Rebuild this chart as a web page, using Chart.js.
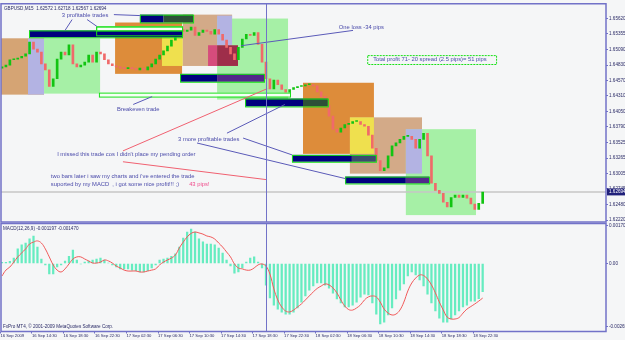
<!DOCTYPE html>
<html>
<head>
<meta charset="utf-8">
<title>GBPUSD M15</title>
<script src="https://cdn.jsdelivr.net/npm/chart.js@4"></script>
<style>
  html, body { margin: 0; padding: 0; width: 625px; height: 340px; overflow: hidden; background: #f5f6f7; }
  canvas { position: absolute; left: 0; top: 0; }
</style>
</head>
<body>
<canvas id="priceChart" width="640" height="340"></canvas>
<canvas id="macdChart" width="640" height="340"></canvas>
<script>
// 30분 간격으로 읽은 시가 / 종가
const opens = [
  1.6478, 1.6480, 1.6483, 1.6492, 1.6493, 1.6495, 1.6498, 1.6502, 1.6522, 1.6510,
  1.6505, 1.6485, 1.6475, 1.6447, 1.6460, 1.6493, 1.6505, 1.6500, 1.6517, 1.6485,
  1.6480, 1.6483, 1.6488, 1.6500, 1.6488, 1.6505, 1.6502, 1.6492, 1.6485, 1.6482,
  1.6480, 1.6478, 1.6477, 1.6478, 1.6477, 1.6475, 1.6478, 1.6475, 1.6480, 1.6485,
  1.6493, 1.6500, 1.6507, 1.6515, 1.6525, 1.6533, 1.6543, 1.6540, 1.6542, 1.6547,
  1.6533, 1.6538, 1.6542, 1.6540, 1.6535, 1.6543, 1.6535, 1.6525, 1.6513, 1.6502,
  1.6492, 1.6513, 1.6527, 1.6535, 1.6533, 1.6538, 1.6518, 1.6488, 1.6460, 1.6443,
  1.6458, 1.6450, 1.6442, 1.6433, 1.6442, 1.6445, 1.6447, 1.6448, 1.6450, 1.6450,
  1.6448, 1.6438, 1.6430, 1.6415, 1.6397, 1.6375, 1.6370, 1.6377, 1.6383, 1.6385,
  1.6388, 1.6388, 1.6383, 1.6380, 1.6365, 1.6343, 1.6322, 1.6305, 1.6310, 1.6330,
  1.6347, 1.6352, 1.6358, 1.6363, 1.6363, 1.6358, 1.6343, 1.6358, 1.6368, 1.6330,
  1.6284, 1.6272, 1.6267, 1.6252, 1.6244, 1.6260, 1.6264, 1.6260, 1.6264, 1.6259,
  1.6249, 1.6240, 1.6250
];
const closes = [
  1.6480, 1.6483, 1.6492, 1.6493, 1.6495, 1.6498, 1.6502, 1.6522, 1.6510, 1.6505,
  1.6485, 1.6475, 1.6447, 1.6460, 1.6493, 1.6505, 1.6500, 1.6517, 1.6485, 1.6480,
  1.6483, 1.6488, 1.6500, 1.6488, 1.6505, 1.6502, 1.6492, 1.6485, 1.6482, 1.6480,
  1.6478, 1.6477, 1.6478, 1.6477, 1.6475, 1.6478, 1.6475, 1.6480, 1.6485, 1.6493,
  1.6500, 1.6507, 1.6515, 1.6525, 1.6533, 1.6543, 1.6540, 1.6542, 1.6547, 1.6533,
  1.6538, 1.6542, 1.6540, 1.6535, 1.6543, 1.6535, 1.6525, 1.6513, 1.6502, 1.6492,
  1.6513, 1.6527, 1.6535, 1.6533, 1.6538, 1.6518, 1.6488, 1.6460, 1.6443, 1.6458,
  1.6450, 1.6442, 1.6433, 1.6442, 1.6445, 1.6447, 1.6448, 1.6450, 1.6450, 1.6448,
  1.6438, 1.6430, 1.6415, 1.6397, 1.6375, 1.6370, 1.6377, 1.6383, 1.6385, 1.6388,
  1.6388, 1.6383, 1.6380, 1.6365, 1.6343, 1.6322, 1.6305, 1.6310, 1.6330, 1.6347,
  1.6352, 1.6358, 1.6363, 1.6363, 1.6358, 1.6343, 1.6358, 1.6368, 1.6330, 1.6284,
  1.6272, 1.6267, 1.6252, 1.6244, 1.6260, 1.6264, 1.6260, 1.6264, 1.6259, 1.6249,
  1.6240, 1.6250, 1.6269
];

// MACD 히스토그램 / 시그널
const macdHist = [
  0.00005, 0.00005, 0.00009, 0.00023, 0.00062, 0.00079, 0.00087, 0.00105, 0.00117, 0.00070,
  0.00019, -0.00006, -0.00044, -0.00044, -0.00015, -0.00006, 0.00010, 0.00031, 0.00057, 0.00015,
  -0.00002, 0.00006, 0.00010, 0.00015, 0.00019, 0.00023, 0.00015, 0.00002, -0.00006, -0.00015,
  -0.00023, -0.00023, -0.00023, -0.00028, -0.00031, -0.00036, -0.00036, -0.00031, -0.00019, -0.00006,
  0.00015, 0.00019, 0.00023, 0.00031, 0.00041, 0.00070, 0.00108, 0.00134, 0.00146, 0.00134,
  0.00105, 0.00092, 0.00083, 0.00083, 0.00079, 0.00066, 0.00044, 0.00015, -0.00010, -0.00041,
  -0.00036, -0.00019, 0.00006, 0.00023, 0.00028, 0.00006, -0.00019, -0.00092, -0.00146, -0.00177,
  -0.00194, -0.00207, -0.00215, -0.00215, -0.00207, -0.00189, -0.00164, -0.00138, -0.00113, -0.00095,
  -0.00083, -0.00083, -0.00092, -0.00105, -0.00126, -0.00151, -0.00168, -0.00185, -0.00185, -0.00177,
  -0.00164, -0.00143, -0.00130, -0.00134, -0.00168, -0.00215, -0.00257, -0.00249, -0.00219, -0.00189,
  -0.00151, -0.00113, -0.00087, -0.00053, -0.00036, -0.00049, -0.00070, -0.00095, -0.00130, -0.00168,
  -0.00202, -0.00232, -0.00249, -0.00249, -0.00236, -0.00219, -0.00202, -0.00185, -0.00177, -0.00160,
  -0.00160, -0.00150, -0.00120
];
const macdSignal = [
  -0.00053, -0.00028, -0.00015, 0.00006, 0.00028, 0.00045, 0.00062, 0.00083, 0.00091, 0.00096,
  0.00087, 0.00062, 0.00028, -0.00006, -0.00028, -0.00036, -0.00023, -0.00002, 0.00019, 0.00028,
  0.00028, 0.00019, 0.00011, 0.00002, 0.00002, 0.00006, 0.00015, 0.00011, 0.00002, -0.00011,
  -0.00019, -0.00028, -0.00032, -0.00032, -0.00032, -0.00036, -0.00036, -0.00032, -0.00028, -0.00023,
  -0.00006, 0.00006, 0.00015, 0.00023, 0.00036, 0.00066, 0.00091, 0.00113, 0.00128, 0.00134,
  0.00130, 0.00125, 0.00117, 0.00113, 0.00104, 0.00087, 0.00070, 0.00049, 0.00028, -0.00002,
  -0.00019, -0.00023, -0.00028, -0.00028, -0.00019, -0.00006, -0.00002, -0.00011, -0.00045, -0.00108,
  -0.00155, -0.00185, -0.00202, -0.00206, -0.00198, -0.00185, -0.00172, -0.00155, -0.00138, -0.00121,
  -0.00106, -0.00096, -0.00087, -0.00091, -0.00104, -0.00125, -0.00155, -0.00181, -0.00196, -0.00198,
  -0.00189, -0.00176, -0.00155, -0.00142, -0.00138, -0.00142, -0.00164, -0.00194, -0.00211, -0.00219,
  -0.00215, -0.00198, -0.00164, -0.00117, -0.00083, -0.00062, -0.00049, -0.00051, -0.00066, -0.00091,
  -0.00125, -0.00164, -0.00198, -0.00228, -0.00236, -0.00236, -0.00230, -0.00211, -0.00194, -0.00183,
  -0.00172, -0.00160, -0.00147
];

// 축 눈금
const priceTicks = [1.65620, 1.65355, 1.65090, 1.64830, 1.64570, 1.64310, 1.64050,
  1.63790, 1.63525, 1.63265, 1.63005, 1.62745, 1.62480, 1.62220];
const lastPrice = 1.62694;
const macdTickAt = [0.00160, 0, -0.00270];
const macdTickLabels = ['0.001701', '0.00', '-0.002651'];
const timeTickAt = [0, 8, 16, 24, 32, 40, 48, 56, 64, 72, 80, 88, 96, 104, 112, 120];
const timeLabels = ['16 Sep 2009', '16 Sep 14:30', '16 Sep 18:30', '16 Sep 22:30', '17 Sep 02:30',
  '17 Sep 06:30', '17 Sep 10:30', '17 Sep 14:30', '17 Sep 18:30', '17 Sep 22:30', '18 Sep 02:30',
  '18 Sep 06:30', '18 Sep 10:30', '18 Sep 14:30', '18 Sep 18:30', '18 Sep 22:30'];

// 차트 위 객체 (막대 번호, 가격)
const zoneBoxes = [
  [-0.25, 10.67, 1.64333, 1.65282, 'tan'],
  [6.6, 10.67, 1.64333, 1.65282, 'lavender'],
  [10.67, 24.9, 1.64350, 1.65282, 'green'],
  [28.7, 45.7, 1.64683, 1.65548, 'orange'],
  [40.6, 45.9, 1.64816, 1.65332, 'yellow'],
  [45.9, 58.4, 1.64816, 1.65681, 'sand'],
  [54.6, 72.6, 1.64250, 1.65615, 'green'],
  [54.6, 58.4, 1.65165, 1.65665, 'lavender'],
  [52.3, 54.6, 1.64816, 1.65165, 'pink'],
  [54.6, 59.9, 1.64816, 1.65165, 'wine'],
  [76.4, 94.4, 1.63335, 1.64533, 'orange'],
  [88.3, 106.6, 1.63002, 1.63950, 'sand'],
  [88.3, 94.4, 1.63335, 1.63950, 'yellow'],
  [102.5, 120.3, 1.62303, 1.63751, 'green'],
  [102.5, 106.6, 1.63002, 1.63751, 'lavender']
];
const tradeBars = [
  [6.86, 45.7, 45.7, 1.65299, 1.65415, 'navy'],
  [35.0, 41.0, 48.5, 1.65548, 1.65681, 'olive'],
  [45.2, 54.6, 66.5, 1.64550, 1.64683, 'purple'],
  [61.7, 76.4, 82.7, 1.64134, 1.64267, 'olive'],
  [73.6, 88.8, 94.9, 1.63202, 1.63318, 'slate'],
  [87.1, 102.5, 108.4, 1.62836, 1.62952, 'purple']
];
const lightBars = [
  [23.9, 45.7, 1.65415, 1.65482],
  [24.6, 73.1, 1.64300, 1.64367]
];
const outlineBars = [
  [23.9, 45.7, 1.65332, 1.65482]
];
const profitBox = [92.7, 125.4, 1.64849, 1.64999];
const blueLinks = [
  [17.8, 1.65598, 16.0, 1.65415],
  [21.6, 1.65598, 24.1, 1.65482],
  [28.4, 1.65681, 35.0, 1.65665],
  [60.7, 1.65157, 89.1, 1.65415],
  [33.3, 1.64167, 38.1, 1.64300],
  [57.1, 1.63684, 71.8, 1.64167],
  [61.2, 1.63601, 73.6, 1.63318],
  [49.5, 1.63518, 87.1, 1.62919]
];
const redLinks = [
  [30.7, 1.63385, 67.3, 1.64433],
  [30.7, 1.63202, 67.0, 1.62902]
];
const notes = [
  [15.2, 1.65665, '3 profitable trades', 'note'],
  [85.5, 1.65465, 'One loss -34 pips', 'note'],
  [94.2, 1.64924, 'Total profit 71- 20 spread (2.5 pips)= 51 pips', 'note'],
  [29.2, 1.64084, 'Breakeven trade', 'note'],
  [44.7, 1.63584, '3 more profitable trades', 'note'],
  [14.0, 1.63318, "I missed this trade cos I didn't place my pending order", 'note'],
  [12.4, 1.62960, "two bars later i saw my charts and i've entered the trade", 'note'],
  [12.4, 1.62819, 'suported by my MACD  , i got some nice profit!!! ;)', 'note'],
  [47.5, 1.62819, '43 pips!', 'hot']
];
const markerBar = 67.1;

const colours = {
  tan: '#d5a474', lavender: '#b3b3e3', green: '#a6f0a6', orange: '#dd8c3a', yellow: '#efe04e',
  sand: '#d3aa88', pink: '#d64c7c', wine: '#9e2e4a', navy: '#00007e', olive: '#2d5038',
  purple: '#52288a', slate: '#3c4c6e', note: '#4a4aaa', hot: '#f04c8c',
  up: '#12c412', down: '#f06a6a', hist: '#66ecc0', signal: '#f05a5a',
  frame: '#7272c8', tradeEdge: '#18e018', blueLine: '#5a5ab8', redLine: '#f06070',
  bid: '#c6c6c6', axisText: '#2a2a66'
};
const FONT = '"Liberation Sans", Arial, sans-serif';
const X_MIN = -0.25, X_MAX = 153.3;
const barIdx = closes.map((_, i) => i);

// 데이터 좌표 -> 픽셀
function toPx(chart, b, p) {
  return [chart.scales.x.getPixelForValue(b), chart.scales.y.getPixelForValue(p)];
}

function rectOf(chart, b0, b1, p0, p1) {
  const [x0, ya] = toPx(chart, b0, p0);
  const [x1, yb] = toPx(chart, b1, p1);
  return [x0, Math.min(ya, yb), x1 - x0, Math.abs(yb - ya)];
}

function drawFrame(chart) {
  const { ctx, chartArea: a } = chart;
  ctx.save();
  ctx.strokeStyle = colours.frame;
  ctx.lineWidth = 1.5;
  ctx.strokeRect(a.left, a.top, a.right - a.left, a.bottom - a.top);
  const x = chart.scales.x.getPixelForValue(markerBar);
  ctx.lineWidth = 1;
  ctx.beginPath();
  ctx.moveTo(Math.round(x) + 0.5, a.top);
  ctx.lineTo(Math.round(x) + 0.5, a.bottom);
  ctx.stroke();
  ctx.restore();
}

const pricePanel = {
  id: 'pricePanel',
  beforeDatasetsDraw(chart) {
    const { ctx, chartArea: a } = chart;
    ctx.save();
    ctx.beginPath();
    ctx.rect(a.left, a.top, a.right - a.left, a.bottom - a.top);
    ctx.clip();
    zoneBoxes.forEach(z => {
      ctx.fillStyle = colours[z[4]];
      ctx.fillRect(...rectOf(chart, z[0], z[1], z[2], z[3]));
    });
    // 현재가 선
    const yb = chart.scales.y.getPixelForValue(lastPrice);
    ctx.strokeStyle = colours.bid;
    ctx.lineWidth = 1.5;
    ctx.beginPath();
    ctx.moveTo(a.left, yb);
    ctx.lineTo(a.right, yb);
    ctx.stroke();
    ctx.restore();
  },
  afterDatasetsDraw(chart) {
    const { ctx, chartArea: a } = chart;
    ctx.save();
    ctx.beginPath();
    ctx.rect(a.left, a.top, a.right - a.left, a.bottom - a.top);
    ctx.clip();

    tradeBars.forEach(t => {
      const left = rectOf(chart, t[0], t[1], t[3], t[4]);
      const right = rectOf(chart, t[1], t[2], t[3], t[4]);
      ctx.fillStyle = colours.navy;
      ctx.fillRect(...left);
      ctx.fillStyle = colours[t[5]];
      ctx.fillRect(...right);
      const whole = rectOf(chart, t[0], t[2], t[3], t[4]);
      ctx.strokeStyle = colours.tradeEdge;
      ctx.lineWidth = 1;
      ctx.strokeRect(whole[0] + 0.5, whole[1] + 0.5, whole[2], whole[3]);
    });
    lightBars.forEach(t => {
      const r = rectOf(chart, t[0], t[1], t[2], t[3]);
      ctx.fillStyle = '#f6fff6';
      ctx.fillRect(...r);
      ctx.strokeStyle = colours.tradeEdge;
      ctx.strokeRect(r[0] + 0.5, r[1] + 0.5, r[2], r[3]);
    });
    outlineBars.forEach(t => {
      const r = rectOf(chart, t[0], t[1], t[2], t[3]);
      ctx.strokeStyle = colours.tradeEdge;
      ctx.strokeRect(r[0] + 0.5, r[1] + 0.5, r[2], r[3]);
    });

    // 추세선
    const links = (list, colour) => {
      ctx.strokeStyle = colour;
      ctx.lineWidth = 1;
      list.forEach(l => {
        const [x0, y0] = toPx(chart, l[0], l[1]);
        const [x1, y1] = toPx(chart, l[2], l[3]);
        ctx.beginPath();
        ctx.moveTo(x0, y0);
        ctx.lineTo(x1, y1);
        ctx.stroke();
      });
    };
    links(blueLinks, colours.blueLine);
    links(redLinks, colours.redLine);

    // 수익 상자
    const pb = rectOf(chart, profitBox[0], profitBox[1], profitBox[2], profitBox[3]);
    ctx.setLineDash([2, 1]);
    ctx.strokeStyle = colours.tradeEdge;
    ctx.strokeRect(pb[0] + 0.5, pb[1] + 0.5, pb[2], pb[3]);
    ctx.setLineDash([]);

    // 메모
    ctx.font = '5.8px ' + FONT;
    ctx.textBaseline = 'middle';
    notes.forEach(n => {
      const [x, y] = toPx(chart, n[0], n[1]);
      ctx.fillStyle = colours[n[3]];
      ctx.fillText(n[2], x, y);
    });

    ctx.font = '4.6px ' + FONT;
    ctx.fillStyle = colours.axisText;
    ctx.textBaseline = 'top';
    ctx.fillText('GBPUSD,M15  1.62572 1.62718 1.62567 1.62694', a.left + 3, a.top + 3);
    ctx.restore();
  },
  afterDraw(chart) {
    drawFrame(chart);
    const { ctx, chartArea: a } = chart;
    const yb = chart.scales.y.getPixelForValue(lastPrice);
    ctx.save();
    ctx.fillStyle = '#20207a';
    ctx.fillRect(a.right + 1, yb - 3.5, 30, 7);
    ctx.fillStyle = '#ffffff';
    ctx.font = '4.6px ' + FONT;
    ctx.textBaseline = 'middle';
    ctx.fillText(lastPrice.toFixed(5), a.right + 3, yb);
    ctx.restore();
  }
};

const macdPanel = {
  id: 'macdPanel',
  afterDraw(chart) {
    drawFrame(chart);
    const { ctx, chartArea: a } = chart;
    ctx.save();
    ctx.font = '4.6px ' + FONT;
    ctx.fillStyle = colours.axisText;
    ctx.textBaseline = 'top';
    ctx.fillText('MACD(12,26,9) -0.001197 -0.001470', a.left + 2, a.top + 3);
    ctx.textBaseline = 'bottom';
    ctx.fillText('FxPro MT4, \u00a9 2001-2009 MetaQuotes Software Corp.', a.left + 2, a.bottom - 2);
    ctx.restore();
  }
};

const axisFont = { family: FONT, size: 4.6 };

// 가격 차트
new Chart(document.getElementById('priceChart'), {
  type: 'bar',
  data: {
    datasets: [{
      data: barIdx.map(i => ({ x: i, y: [opens[i], closes[i]] })),
      backgroundColor: barIdx.map(i => closes[i] >= opens[i] ? colours.up : colours.down),
      barThickness: 2,
      minBarLength: 1
    }]
  },
  options: {
    responsive: false,
    animation: false,
    layout: { padding: { top: 1, bottom: 118, left: 1, right: 0 } },
    plugins: { legend: { display: false }, tooltip: { enabled: false } },
    scales: {
      x: { type: 'linear', display: false, min: X_MIN, max: X_MAX, offset: false, grid: { offset: false } },
      y: {
        position: 'right',
        min: 1.62187,
        max: 1.65864,
        afterFit: s => { s.width = 34; },
        afterBuildTicks: s => { s.ticks = priceTicks.map(v => ({ value: v })); },
        ticks: { autoSkip: false, padding: 1, color: colours.axisText, font: axisFont, callback: v => v.toFixed(5) },
        grid: { drawOnChartArea: false, drawTicks: true, tickLength: 2, color: colours.frame },
        border: { display: false }
      }
    }
  },
  plugins: [pricePanel]
});

// MACD 차트
new Chart(document.getElementById('macdChart'), {
  type: 'bar',
  data: {
    datasets: [{
      type: 'line',
      data: barIdx.map(i => ({ x: i, y: macdSignal[i] })),
      borderColor: colours.signal,
      borderWidth: 1,
      pointRadius: 0,
      tension: 0.4,
      order: 1
    }, {
      type: 'bar',
      data: barIdx.map(i => ({ x: i, y: macdHist[i] })),
      backgroundColor: colours.hist,
      barThickness: 1.6,
      order: 2
    }]
  },
  options: {
    responsive: false,
    animation: false,
    layout: { padding: { top: 223.5, bottom: 0, left: 1, right: 0 } },
    plugins: { legend: { display: false }, tooltip: { enabled: false } },
    scales: {
      x: {
        type: 'linear',
        min: X_MIN,
        max: X_MAX,
        offset: false,
        afterFit: s => { s.height = 8.5; },
        afterBuildTicks: s => { s.ticks = timeTickAt.map(v => ({ value: v - 0.4 })); },
        ticks: { autoSkip: false, maxRotation: 0, align: 'start', padding: 0, color: colours.axisText,
          font: { family: FONT, size: 4.2 }, callback: (v, i) => timeLabels[i] },
        grid: { offset: false, drawOnChartArea: false, drawTicks: true, tickLength: 2, color: colours.frame },
        border: { display: false }
      },
      y: {
        position: 'right',
        min: -0.002892,
        max: 0.001701,
        afterFit: s => { s.width = 34; },
        afterBuildTicks: s => { s.ticks = macdTickAt.map(v => ({ value: v })); },
        ticks: { autoSkip: false, padding: 1, color: colours.axisText, font: axisFont, callback: (v, i) => macdTickLabels[i] },
        grid: { drawOnChartArea: false, drawTicks: true, tickLength: 2, color: colours.frame },
        border: { display: false }
      }
    }
  },
  plugins: [macdPanel]
});
</script>
</body>
</html>
